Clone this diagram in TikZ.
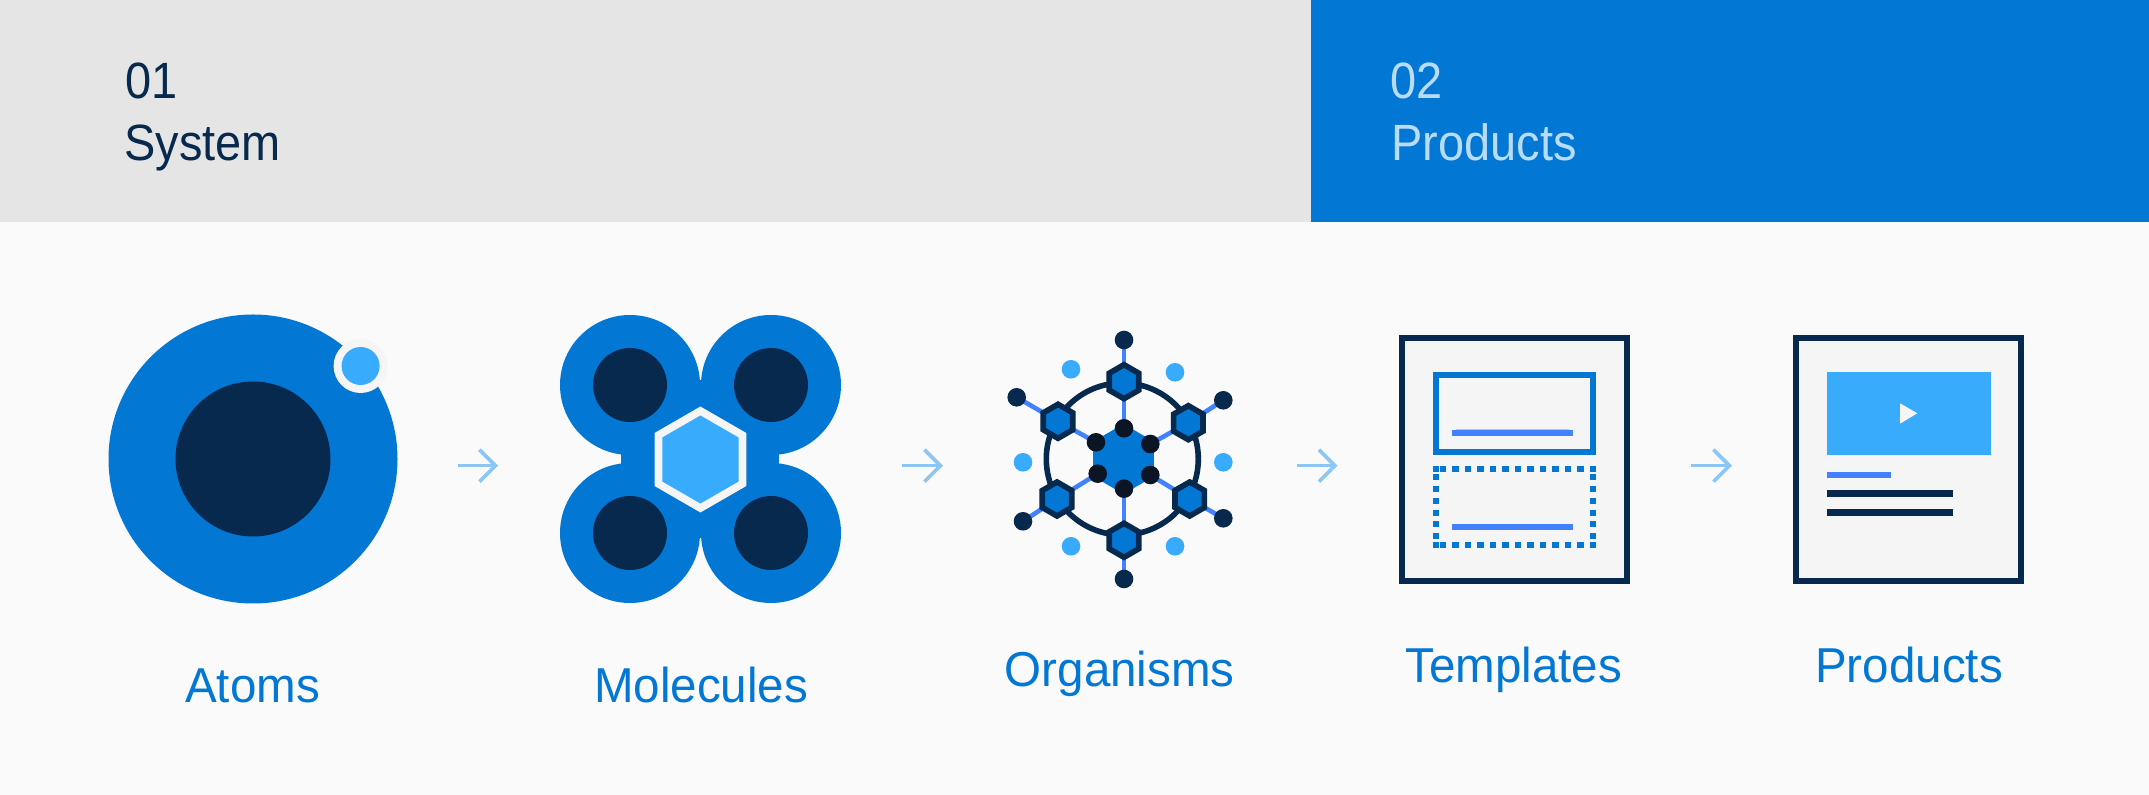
\documentclass[tikz,border=0pt]{standalone}
\usepackage{fontspec}
\usetikzlibrary{shapes.geometric,arrows.meta}
\setmainfont{Liberation Sans}[FakeStretch=0.92]
\newfontfamily\labelfont{Liberation Sans}[FakeStretch=0.97]
\definecolor{pagebg}{HTML}{FAFAFA}
\definecolor{headgrey}{HTML}{E5E5E5}
\definecolor{mainblue}{HTML}{0277D4}
\definecolor{lightblue}{HTML}{38ABFD}
\definecolor{linkblue}{HTML}{4382FF}
\definecolor{navy}{HTML}{06294D}
\definecolor{ink}{HTML}{0C1525}
\definecolor{paper}{HTML}{F5F5F5}
\definecolor{arrowblue}{HTML}{8CC6F4}
\definecolor{palehead}{HTML}{B8DCF9}
\pgfdeclarelayer{under}
\pgfsetlayers{under,main}
\tikzset{
  x=0.5pt,y=-0.5pt,
  disc/.style={circle,inner sep=0pt,outer sep=0pt,minimum size=#1*0.5pt},
  hexa/.style={regular polygon,regular polygon sides=6,shape border rotate=30,inner sep=0pt,outer sep=0pt,minimum size=#1*1pt},
  tip/.style={circle,inner sep=0pt,outer sep=0pt,minimum size=9.3pt,fill=navy},
  bead/.style={circle,inner sep=0pt,outer sep=0pt,minimum size=9.3pt,fill=ink},
  spot/.style={circle,inner sep=0pt,outer sep=0pt,minimum size=9.3pt,fill=lightblue},
  cell/.style={regular polygon,regular polygon sides=6,shape border rotate=30,inner sep=0pt,outer sep=0pt,minimum size=17pt,fill=mainblue,draw=navy,line width=2.8pt},
  link/.style={draw=linkblue,line width=2.3pt},
  flow/.style={draw=arrowblue,line width=1.8pt,-{Straight Barb[length=8pt,width=16pt,line width=1.8pt]}},
  frame/.style={draw=navy,line width=3pt,fill=paper},
  title/.style={font=\fontsize{25.5pt}{25.5pt}\selectfont,anchor=base west,inner sep=0pt},
  label/.style={font=\labelfont\fontsize{24.5pt}{24.5pt}\selectfont,text=mainblue,anchor=base,inner sep=0pt}
}
\begin{document}
\begin{tikzpicture}
\useasboundingbox (0,0) rectangle (2149,795);
\begin{pgfonlayer}{under}
\fill[pagebg] (0,0) rectangle (2149,795);
\fill[headgrey] (0,0) rectangle (1311,222);
\fill[mainblue] (1311,0) rectangle (2149,222);
\end{pgfonlayer}
% header
\node[title,text=navy] (n1) at (125,99) {01};
\node[title,text=navy] (s1) at (124,161) {System};
\node[title,text=palehead] (n2) at (1390,99) {02};
\node[title,text=palehead] (s2) at (1391,161) {Products};
% atom
\node[disc=289,fill=mainblue] (atom) at (253,459) {};
\node[disc=155,fill=navy] (nucleus) at (253,459) {};
\node[disc=54,fill=paper] (ering) at (360.6,366) {};
\node[disc=38,fill=lightblue] (electron) at (360.6,366) {};
% molecule
\fill[mainblue] (630,380) rectangle (771,538);
\fill[mainblue] (621,454) rectangle (779,464);
\foreach \nm/\cx/\cy in {a/630/385,b/771/385,c/630/533,d/771/533}{
  \node[disc=140,fill=mainblue] (m\nm) at (\cx,\cy) {};
  \node[disc=74,fill=navy] (k\nm) at (\cx,\cy) {};
}
\node[hexa=53,fill=paper] (mhexo) at (700.4,459.5) {};
\node[hexa=44,fill=lightblue] (mhexi) at (700.4,459.5) {};
% organism
\node[hexa=35,fill=mainblue] (core) at (1123.5,459) {};
\node[cell] (h1) at (1124,381.7) {};
\node[cell] (h2) at (1188.3,422.7) {};
\node[cell] (h3) at (1189.7,499) {};
\node[cell] (h4) at (1124,540.3) {};
\node[cell] (h5) at (1057,499) {};
\node[cell] (h6) at (1058,421.3) {};
\node[tip] (t1) at (1124,340) {};
\node[tip] (t2) at (1223.3,400.3) {};
\node[tip] (t3) at (1223.3,518.3) {};
\node[tip] (t4) at (1124,579) {};
\node[tip] (t5) at (1023,521.3) {};
\node[tip] (t6) at (1016.7,397.3) {};
\node[bead] (b1) at (1124,428.3) {};
\node[bead] (b2) at (1150.3,444) {};
\node[bead] (b3) at (1150.3,475) {};
\node[bead] (b4) at (1124,488.7) {};
\node[bead] (b5) at (1097.7,473.7) {};
\node[bead] (b6) at (1096,442.3) {};
\node[spot] (p1) at (1071,369.3) {};
\node[spot] (p2) at (1175,372.3) {};
\node[spot] (p3) at (1223.3,462.3) {};
\node[spot] (p4) at (1175,546.3) {};
\node[spot] (p5) at (1071,546.3) {};
\node[spot] (p6) at (1023,462.3) {};
\begin{pgfonlayer}{under}
\foreach \i in {1,...,6}{
  \path[link] (t\i.center) -- (h\i.center);
  \path[link] (h\i.center) -- (b\i.center);
}
\draw[navy,line width=2.8pt] (1122.3,459) circle [radius=38pt];
\end{pgfonlayer}
% template
\node[frame,rectangle,minimum width=112.5pt,minimum height=121.5pt,inner sep=0pt,outer sep=0pt] (tpl) at (1514.5,459.5) {};
\draw[mainblue,line width=3pt] (1436,375.5) rectangle (1593,452);
\draw[linkblue!45,line width=0.5pt] (1456,429.4) -- (1568.6,429.4);
\fill[linkblue] (1452.4,430.2) rectangle (1573.4,436.3);
\draw[mainblue,line width=3pt,dash pattern=on 3.125pt off 3.125pt,dash phase=2.85pt] (1433,469) -- (1596,469);
\draw[mainblue,line width=3pt,dash pattern=on 3.125pt off 3.125pt,dash phase=2.85pt] (1433,545) -- (1596,545);
\draw[mainblue,line width=3pt,dash pattern=on 2.95pt off 2.925pt] (1436,474.4) -- (1436,545);
\draw[mainblue,line width=3pt,dash pattern=on 2.95pt off 2.925pt] (1593,474.4) -- (1593,545);
\foreach \qx/\qy in {1433/465.7,1590/465.7,1433/542,1590/542}{
  \fill[mainblue] (\qx,\qy) rectangle ++(6,6);
}
\fill[linkblue] (1452.4,523.7) rectangle (1573.4,530.3);
% product
\node[frame,rectangle,minimum width=112.5pt,minimum height=121.5pt,inner sep=0pt,outer sep=0pt] (prd) at (1908.9,459.5) {};
\fill[lightblue] (1827,372.3) rectangle (1990.6,455);
\fill[paper] (1900,403.3) -- (1917.3,413.3) -- (1900,423.7) -- cycle;
\fill[linkblue] (1827,472) rectangle (1890.8,478);
\fill[navy] (1827,490.3) rectangle (1952.8,497);
\fill[navy] (1827,509) rectangle (1952.8,515.7);
% arrows
\foreach \i/\xa/\xb in {1/458/498,2/902/943,3/1296.7/1337.5,4/1691/1732}{
  \coordinate (as\i) at (\xa,465.7);
  \coordinate (ae\i) at (\xb,465.7);
  \draw[flow] (as\i) -- (ae\i);
}
% labels
\node[label] (l1) at (252.5,702.5) {Atoms};
\node[label] (l2) at (701,702.5) {Molecules};
\node[label] (l3) at (1119.7,687) {Organisms};
\node[label] (l4) at (1513.5,682.5) {Templates};
\node[label] (l5) at (1909,682.5) {Products};
\end{tikzpicture}
\end{document}
